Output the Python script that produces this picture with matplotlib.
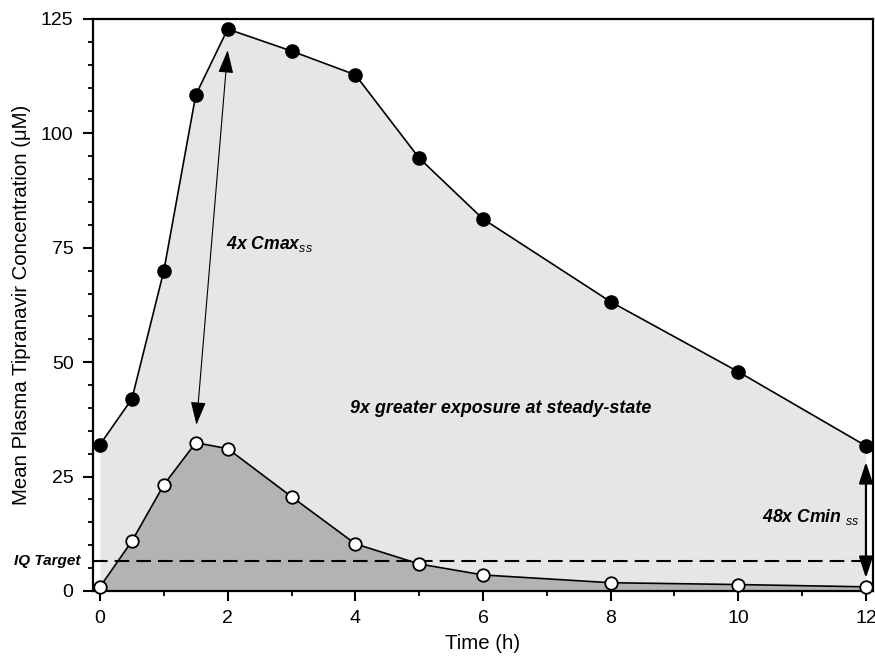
import numpy as np
import matplotlib.pyplot as plt
from matplotlib.ticker import MultipleLocator

plt.rcParams['font.family'] = ['Liberation Sans', 'DejaVu Sans']
plt.rcParams['mathtext.fontset'] = 'custom'
plt.rcParams['mathtext.rm'] = 'Liberation Sans'
plt.rcParams['mathtext.it'] = 'Liberation Sans:italic'
plt.rcParams['mathtext.bf'] = 'Liberation Sans:bold'

time_h = [0, 0.5, 1, 1.5, 2, 3, 4, 5, 6, 8, 10, 12]
steady_state = [32, 42, 70, 108.4, 122.8, 118, 112.8, 94.6, 81.3, 63.2, 47.9, 31.7]
single_dose = [0.9, 10.9, 23.2, 32.4, 31.1, 20.6, 10.3, 5.9, 3.5, 1.8, 1.4, 0.9]
iq_target = 6.6

fig = plt.figure(figsize=(8.75, 6.64), dpi=100)
ax = fig.add_axes([0.1063, 0.110, 0.8914, 0.8614])

ax.fill_between(time_h, steady_state, 0, color="#e6e6e6", lw=0, zorder=1)
ax.fill_between(time_h, single_dose, 0, color="#b3b3b3", lw=0, zorder=2)

ax.plot(time_h, steady_state, "-o", color="black", lw=1.2, markersize=9.5,
        markerfacecolor="black", markeredgecolor="black", clip_on=False, zorder=5)
ax.plot(time_h, single_dose, "-o", color="black", lw=1.2, markersize=9,
        markerfacecolor="white", markeredgecolor="black", markeredgewidth=1.3,
        clip_on=False, zorder=5)

ax.axhline(iq_target, color="black", lw=1.5, dashes=(7, 3.4), zorder=4)
ax.text(-0.31, 5.7, "IQ Target", ha="right", va="baseline", fontsize=11,
        fontweight="bold", fontstyle="italic", clip_on=False)

head = "<|-|>,head_length=0.72,head_width=0.235"

# 4x Cmax arrow
ax.annotate("", xy=(2.0, 118.2), xytext=(1.51, 36.3),
            arrowprops=dict(arrowstyle=head, color="black", lw=0.8,
                            mutation_scale=20, shrinkA=0, shrinkB=0), zorder=6)
ax.text(1.98, 74.7, r"4x Cmax$_{ss}$", fontsize=12.7, fontweight="bold",
        fontstyle="italic", ha="left", va="baseline", zorder=6)

ax.text(3.91, 38.9, "9x greater exposure at steady-state", fontsize=12.9,
        fontweight="bold", fontstyle="italic", ha="left", va="baseline", zorder=6)

# 48x Cmin arrow
ax.annotate("", xy=(12, 28.2), xytext=(12, 2.8),
            arrowprops=dict(arrowstyle=head, color="black", lw=1.6,
                            mutation_scale=18, shrinkA=0, shrinkB=0), zorder=6)
ax.text(11.9, 15.1, r"48x Cmin $_{ss}$", fontsize=12.7, fontweight="bold",
        fontstyle="italic", ha="right", va="baseline", zorder=6)

ax.set_xlim(-0.11, 12.11)
ax.set_ylim(0, 125)
ax.xaxis.set_major_locator(MultipleLocator(2))
ax.xaxis.set_minor_locator(MultipleLocator(1))
ax.yaxis.set_major_locator(MultipleLocator(25))
ax.yaxis.set_minor_locator(MultipleLocator(5))
ax.tick_params(which="major", direction="out", length=7, width=1.5, labelsize=14)
ax.tick_params(which="minor", direction="out", length=3.5, width=1.3)
ax.tick_params(axis="x", which="major", pad=6.5)
ax.tick_params(axis="y", which="major", pad=7)

for s in ax.spines.values():
    s.set_linewidth(1.6)

ax.set_xlabel("Time (h)", fontsize=14.7, labelpad=5)
ax.set_ylabel("Mean Plasma Tipranavir Concentration (\u03bcM)", fontsize=14.7, labelpad=7)

fig.savefig("out.png", dpi=100)
